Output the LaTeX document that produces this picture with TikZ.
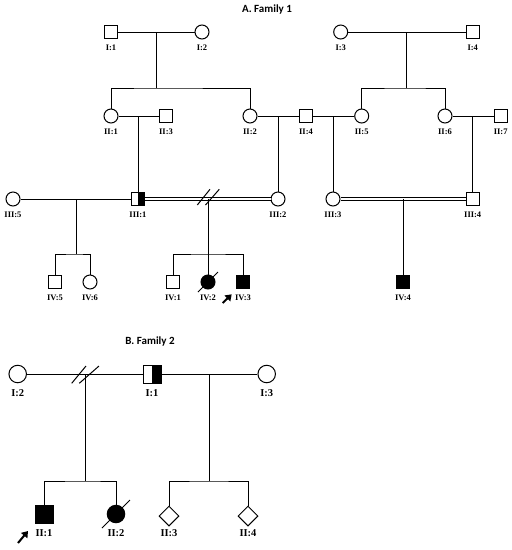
\documentclass[tikz,border=0pt]{standalone}
\usepackage{fontspec}
\newfontfamily\lblfont{Liberation Serif}
\newfontfamily\ttlfont{Carlito}
\usetikzlibrary{shapes.geometric,arrows.meta}
\begin{document}
\begin{tikzpicture}[x=1pt,y=-1pt,line width=1pt,
  male/.style={draw,rectangle,minimum size=13pt,inner sep=0pt,fill=white},
  female/.style={draw,circle,minimum size=14pt,inner sep=0pt,fill=white},
  bmale/.style={draw,rectangle,minimum size=18pt,inner sep=0pt,fill=white},
  bfemale/.style={draw,circle,minimum size=17.5pt,inner sep=0pt,fill=white},
  bunknown/.style={draw,diamond,aspect=1,minimum size=20pt,inner sep=0pt,fill=white},
  aff/.style={fill=black},
  carrier/.style={path picture={\fill[black] (path picture bounding box.north) rectangle (path picture bounding box.south east);}},
  lbl/.style={font=\lblfont\bfseries\fontsize{8.5}{10}\selectfont,inner sep=0pt,label distance=5pt},
  blbl/.style={font=\lblfont\bfseries\fontsize{10.5}{12}\selectfont,inner sep=0pt,label distance=6pt},
  ttl/.style={font=\ttlfont\bfseries\fontsize{11}{13}\selectfont,inner sep=0pt},
  dbl/.style={double,double distance=2pt,line width=0.8pt},
  proband/.style={line width=2pt,-{Triangle[length=6pt,width=8pt]}}
]
\useasboundingbox (0,0) rectangle (512,550);

% ---------- Titles ----------
\node[ttl] (tA) at (267,10) {A. Family 1};
\node[ttl] (tB) at (150,341) {B. Family 2};

% ---------- Family 1 : generation I ----------
\node[male]   (I1) at (111,32)   [label={[lbl]below:{I:1}}] {};
\node[female] (I2) at (202,32)   [label={[lbl]below:{I:2}}] {};
\node[female] (I3) at (340.7,32) [label={[lbl]below:{I:3}}] {};
\node[male]   (I4) at (472.7,32) [label={[lbl]below:{I:4}}] {};

% ---------- generation II ----------
\node[female] (II1) at (111,116)   [label={[lbl]below:{II:1}}] {};
\node[male]   (II3) at (166,116)   [label={[lbl]below:{II:3}}] {};
\node[female] (II2) at (250,116)   [label={[lbl]below:{II:2}}] {};
\node[male]   (II4) at (306,116)   [label={[lbl]below:{II:4}}] {};
\node[female] (II5) at (361.7,116) [label={[lbl]below:{II:5}}] {};
\node[female] (II6) at (445,116)   [label={[lbl]below:{II:6}}] {};
\node[male]   (II7) at (500.7,116) [label={[lbl]below:{II:7}}] {};

% ---------- generation III ----------
\node[female] (III5) at (13,199)    [label={[lbl]below:{III:5}}] {};
\node[male,carrier] (III1) at (138,199) [label={[lbl]below:{III:1}}] {};
\node[female] (III2) at (278,199)   [label={[lbl]below:{III:2}}] {};
\node[female] (III3) at (333,199)   [label={[lbl]below:{III:3}}] {};
\node[male]   (III4) at (472.7,199) [label={[lbl]below:{III:4}}] {};

% ---------- generation IV ----------
\node[male]       (IV5) at (55,282)  [label={[lbl]below:{IV:5}}] {};
\node[female]     (IV6) at (90,282)  [label={[lbl]below:{IV:6}}] {};
\node[male]       (IV1) at (173,282) [label={[lbl]below:{IV:1}}] {};
\node[female,aff] (IV2) at (208,282) [label={[lbl]below:{IV:2}}] {};
\node[male,aff]   (IV3) at (243,282) [label={[lbl]below:{IV:3}}] {};
\node[male,aff]   (IV4) at (403,282) [label={[lbl]below:{IV:4}}] {};

% ---------- junction coordinates ----------
\coordinate (m1) at (156,32);   \coordinate (s1) at (156,88);
\coordinate (m2) at (406.7,32); \coordinate (s2) at (406.7,88);
\coordinate (m3) at (138,116);
\coordinate (m4) at (278,116);
\coordinate (m5) at (333,116);
\coordinate (m6) at (472.7,116);
\coordinate (m7) at (76,199);   \coordinate (s7) at (76,254);
\coordinate (m8) at (208,199);  \coordinate (s8) at (208,254);
\coordinate (m9) at (403,199);

% ---------- Family 1 connectors ----------
\draw (I1) -- (I2);
\draw (I3) -- (I4);
\draw (m1) -- (s1);
\draw (II1.north) |- (s1) -| (II2.north);
\draw (m2) -- (s2);
\draw (II5.north) |- (s2) -| (II6.north);
\draw (II1) -- (II3);
\draw (II2) -- (II4);
\draw (II4) -- (II5);
\draw (II6) -- (II7);
\draw (m3) -- (III1.north);
\draw (m4) -- (III2.north);
\draw (m5) -- (III3.north);
\draw (m6) -- (III4.north);
\draw (III5) -- (III1);
\draw[dbl] (III1) -- (III2);
\draw[dbl] (III3) -- (III4);
\draw (m7) -- (s7);
\draw (IV5.north) |- (s7) -| (IV6.north);
\draw (m8) -- (s8);
\draw (IV1.north) |- (s8) -| (IV3.north);
\draw (s8) -- (IV2.north);
\draw (m9) -- (IV4.north);
% divorce / separation marks
\draw (197.3,205) -- (210,189.3);
\draw (205.5,205) -- (219.3,189.3);
% deceased
\draw ([shift={(-10,10)}]IV2.center) -- ([shift={(10,-10)}]IV2.center);
% proband
\coordinate (pA1) at ([shift={(-20.3,21)}]IV3.center);
\coordinate (pA2) at ([shift={(-11.3,12.3)}]IV3.center);
\draw[proband] (pA1) -- (pA2);

% ---------- Family 2 ----------
\node[bfemale]       (BI2) at (17.7,374)  [label={[blbl]below:{I:2}}] {};
\node[bmale,carrier] (BI1) at (152,374)   [label={[blbl]below:{I:1}}] {};
\node[bfemale]       (BI3) at (266.7,374) [label={[blbl]below:{I:3}}] {};
\node[bmale,aff]     (BII1) at (44,514)   [label={[blbl]below:{II:1}}] {};
\node[bfemale,aff]   (BII2) at (116,514)  [label={[blbl]below:{II:2}}] {};
\node[bunknown]      (BII3) at (169,516)  [label={[blbl,label distance=3pt]below:{II:3}}] {};
\node[bunknown]      (BII4) at (248,516)  [label={[blbl,label distance=3pt]below:{II:4}}] {};

\coordinate (bm1) at (85,374);  \coordinate (bs1) at (85,481);
\coordinate (bm2) at (209,374); \coordinate (bs2) at (209,481);

\draw (BI2) -- (BI1);
\draw (BI1) -- (BI3);
\draw (bm1) -- (bs1);
\draw (BII1.north) |- (bs1) -| (BII2.north);
\draw (bm2) -- (bs2);
\draw (BII3.north) |- (bs2) -| (BII4.north);
\draw (71.7,383.3) -- (86,366);
\draw (79.3,383.3) -- (99,366);
\draw ([shift={(-14,14)}]BII2.center) -- ([shift={(14,-14)}]BII2.center);
\coordinate (pB1) at ([shift={(-26,29)}]BII1.center);
\coordinate (pB2) at ([shift={(-16,17)}]BII1.center);
\draw[proband] (pB1) -- (pB2);
\end{tikzpicture}
\end{document}
